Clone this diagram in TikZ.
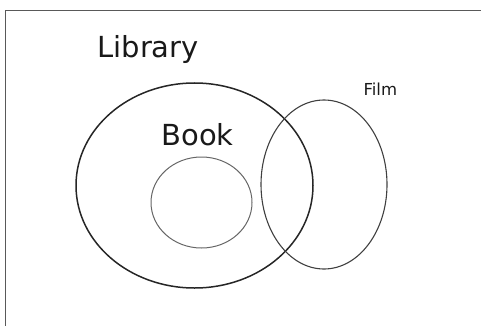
\documentclass[tikz,border=0pt]{standalone}
\usepackage{fontspec}
\setmainfont{DejaVu Sans}
\begin{document}
\begin{tikzpicture}[x=1pt,y=-1pt,
  lbl/.style={inner sep=0pt,anchor=base west,text=black!90},
  bigset/.style={draw=black!85,line width=1.5pt},
  subset/.style={draw=black!60,line width=1pt},
  filmset/.style={draw=black!75,line width=1.1pt}]
\useasboundingbox (0,0) rectangle (481,326);
\draw[black!65,line width=1.5pt] (5.7,326) -- (5.7,10.7) -- (481,10.7);
\draw[bigset] (194.5,185.5) ellipse [x radius=118.5, y radius=102.5];
\draw[subset] (201.5,202.5) ellipse [x radius=50.5, y radius=45.5];
\draw[filmset] (324,184.5) ellipse [x radius=63, y radius=84.5];
\node[lbl,font=\fontsize{29}{34}\selectfont] (library) at (97.2,58) {Library};
\node[lbl,font=\fontsize{29}{34}\selectfont] (book) at (161.2,145.5) {Book};
\node[lbl,font=\fontsize{16.5}{20}\selectfont] (film) at (363.4,95.5) {Film};
\end{tikzpicture}
\end{document}
